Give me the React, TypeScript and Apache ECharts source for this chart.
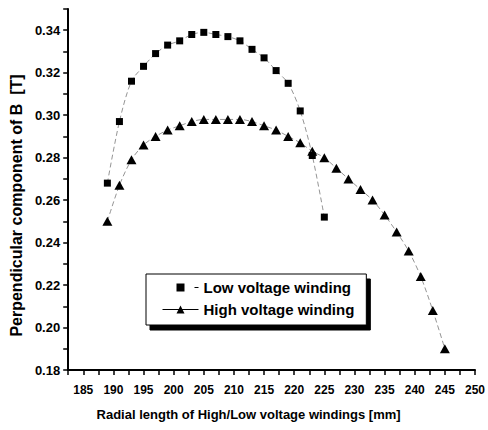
import React, { useEffect, useRef } from "react";
import * as echarts from "echarts";

const lowX = [189, 191, 193, 195, 197, 199, 201, 203, 205, 207, 209, 211, 213, 215, 217, 219, 221, 223, 225];
const lowY = [0.268, 0.297, 0.316, 0.323, 0.329, 0.333, 0.335, 0.338, 0.339, 0.338, 0.337, 0.335, 0.331, 0.327, 0.321, 0.315, 0.302, 0.281, 0.252];

const highX = [189, 191, 193, 195, 197, 199, 201, 203, 205, 207, 209, 211, 213, 215, 217, 219, 221, 223, 225, 227, 229, 231, 233, 235, 237, 239, 241, 243, 245];
const highY = [0.250, 0.267, 0.279, 0.286, 0.290, 0.293, 0.295, 0.297, 0.298, 0.298, 0.298, 0.298, 0.297, 0.295, 0.293, 0.290, 0.287, 0.283, 0.280, 0.275, 0.270, 0.265, 0.260, 0.253, 0.245, 0.236, 0.224, 0.208, 0.190];

const lowName = "Low voltage winding";
const highName = "High voltage winding";
const xTitle = "Radial length of High/Low voltage windings [mm]";
const yTitle = "Perpendicular component of B  [T]";

const FONT = "'Liberation Sans', Arial, Helvetica, sans-serif";

export default function App() {
  const ref = useRef<HTMLDivElement>(null);
  useEffect(() => {
    if (!ref.current) return;
    const chart = echarts.init(ref.current, null, { renderer: "svg" });
    const lowData = lowX.map((x, i) => [x, lowY[i]]);
    const highData = highX.map((x, i) => [x, highY[i]]);
    chart.setOption({
      animation: false,
      backgroundColor: "#fff",
      grid: { left: 68, top: 9, right: 9.5, bottom: 60, containLabel: false },
      xAxis: {
        type: "value",
        min: 182.5,
        max: 250,
        interval: 2.5,
        name: xTitle,
        nameLocation: "middle",
        nameGap: 38,
        nameTextStyle: {
          fontFamily: FONT,
          fontWeight: "bold",
          fontSize: 13,
          color: "#000",
          padding: [0, 46, 0, 0],
        },
        axisLine: { lineStyle: { color: "#000", width: 2 } },
        axisTick: { inside: false, length: 5, lineStyle: { color: "#000", width: 1.5 } },
        axisLabel: {
          margin: 14,
          fontFamily: FONT,
          fontWeight: "bold",
          fontSize: 12,
          color: "#000",
          formatter: (v: number) => (Math.round(v * 10) % 50 === 0 ? String(v) : ""),
        },
        splitLine: { show: false },
      },
      yAxis: {
        type: "value",
        min: 0.18,
        max: 0.35,
        interval: 0.01,
        name: yTitle,
        nameLocation: "middle",
        nameGap: 42,
        nameTextStyle: {
          fontFamily: FONT,
          fontWeight: "bold",
          fontSize: 16,
          color: "#000",
          padding: [0, 32, 0, 0],
        },
        axisLine: { show: true, lineStyle: { color: "#000", width: 2 } },
        axisTick: { show: true, inside: false, length: 5, lineStyle: { color: "#000", width: 1.5 } },
        axisLabel: {
          margin: 8,
          fontFamily: FONT,
          fontWeight: "bold",
          fontSize: 13,
          color: "#000",
          formatter: (v: number) => (Math.round(v * 100) % 2 === 0 ? v.toFixed(2) : ""),
        },
        splitLine: { show: false },
      },
      legend: {
        orient: "vertical",
        left: 146,
        top: 274,
        itemWidth: 36,
        itemHeight: 10,
        itemGap: 7,
        padding: [6, 12, 8, 16],
        borderColor: "#000",
        borderWidth: 1,
        backgroundColor: "#fff",
        shadowColor: "#000",
        shadowOffsetX: 4,
        shadowOffsetY: 5,
        shadowBlur: 0,
        selectedMode: false,
        textStyle: { fontFamily: FONT, fontWeight: "bold", fontSize: 15, color: "#000" },
        data: [
          { name: lowName, lineStyle: { color: "#000", width: 1, type: [0, 32, 4, 100] } },
          { name: highName, lineStyle: { color: "#000", width: 1, type: "solid" } },
        ],
      },
      series: [
        {
          name: lowName,
          type: "line",
          data: lowData,
          smooth: 0.3,
          symbol: "rect",
          symbolSize: 7,
          itemStyle: { color: "#000" },
          lineStyle: { color: "#666", width: 0.7, type: [5, 3] },
          z: 3,
        },
        {
          name: highName,
          type: "line",
          data: highData,
          smooth: 0.3,
          symbol: "triangle",
          symbolSize: [10, 9],
          itemStyle: { color: "#000" },
          lineStyle: { color: "#666", width: 0.7, type: [5, 3] },
          z: 2,
        },
      ],
    });
    return () => chart.dispose();
  }, []);
  return <div ref={ref} style={{ position: "fixed", left: 0, top: 0, width: 488, height: 430 }} />;
}
